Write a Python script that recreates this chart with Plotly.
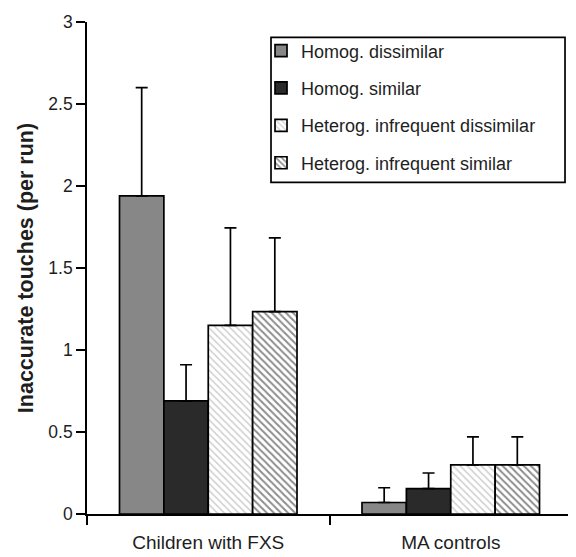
import plotly.graph_objects as go

categories = ["Children with FXS", "MA controls"]
series_names = [
    "Homog. dissimilar",
    "Homog. similar",
    "Heterog. infrequent dissimilar",
    "Heterog. infrequent similar",
]
means = [
    [1.94, 0.07],
    [0.69, 0.155],
    [1.15, 0.30],
    [1.234, 0.30],
]
errors = [
    [0.66, 0.09],
    [0.22, 0.095],
    [0.595, 0.17],
    [0.45, 0.17],
]
y_tick_vals = [0, 0.5, 1, 1.5, 2, 2.5, 3]
y_tick_text = ["0", "0.5", "1", "1.5", "2", "2.5", "3"]

styles = [
    dict(color="#878787", pattern=None),
    dict(color="#2a2a2a", pattern=None),
    dict(color="white", pattern=dict(shape="\\", fgcolor="#a0a0a0", bgcolor="white", size=5, solidity=0.3)),
    dict(color="white", pattern=dict(shape="\\", fgcolor="#1a1a1a", bgcolor="white", size=5, solidity=0.4)),
]

fig = go.Figure()
for i, name in enumerate(series_names):
    st = styles[i]
    marker = dict(color=st["color"], line=dict(color="black", width=1.7))
    if st["pattern"] is not None:
        marker["pattern"] = st["pattern"]
    fig.add_trace(go.Bar(
        x=categories,
        y=means[i],
        name=name,
        legendgroup=f"g{i}",
        marker=marker,
        error_y=dict(type="data", array=errors[i], arrayminus=[0] * len(errors[i]),
                     symmetric=False, color="black", thickness=1.7, width=6),
    ))

font_family = "Liberation Sans, Arial, sans-serif"
fig.update_layout(
    width=568, height=549,
    barmode="group",
    bargap=0.268,
    bargroupgap=0,
    plot_bgcolor="white",
    paper_bgcolor="white",
    margin=dict(l=79, r=4, t=8, b=40),
    font=dict(family=font_family, size=18, color="#1e1e1e"),
    showlegend=True,
    legend=dict(
        x=0.3588, y=0.979, xanchor="left", yanchor="top",
        bgcolor="rgba(0,0,0,0)", borderwidth=0,
        font=dict(family=font_family, size=18, color="#1e1e1e"),
        tracegroupgap=11,
        itemwidth=30,
    ),
    shapes=[dict(
        type="rect", xref="paper", yref="paper",
        x0=0.3794, x1=0.9856, y0=0.674, y1=0.9687,
        line=dict(color="black", width=1.7), fillcolor="rgba(0,0,0,0)", layer="above",
    )],
    xaxis=dict(
        showline=True, linecolor="black", linewidth=1.7,
        ticks="outside", tickson="boundaries", ticklen=9, tickwidth=1.7, tickcolor="black",
        tickfont=dict(size=19, color="#1e1e1e"),
        ticklabelstandoff=10,
        showgrid=False,
    ),
    yaxis=dict(
        range=[0, 3],
        tickvals=y_tick_vals, ticktext=y_tick_text,
        showline=True, linecolor="black", linewidth=1.7,
        ticks="outside", ticklen=9, tickwidth=1.7, tickcolor="black",
        tickfont=dict(size=17.5, color="#1e1e1e"),
        ticklabeloverflow="allow",
        showgrid=False, zeroline=False,
        title=dict(text="<b>Inaccurate touches (per run)</b>", font=dict(size=21.5, color="#1e1e1e"), standoff=9),
    ),
)

fig.write_html("out.html")
